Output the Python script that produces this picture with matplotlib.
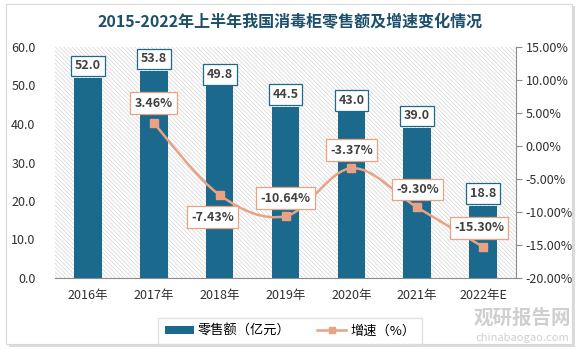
import matplotlib

matplotlib.use("Agg")
import matplotlib.pyplot as plt
from matplotlib.patches import Patch, Rectangle, PathPatch
from matplotlib.lines import Line2D
from matplotlib.path import Path

plt.rcParams["font.family"] = ["Noto Sans CJK SC", "DejaVu Sans"]
plt.rcParams["hatch.linewidth"] = 0.5

# data
years = ["2016年", "2017年", "2018年", "2019年", "2020年", "2021年", "2022年E"]
sales = [52.0, 53.8, 49.8, 44.5, 43.0, 39.0, 18.8]
growth_years = [1, 2, 3, 4, 5, 6]  # index into years (2016 has no growth value)
growth = [3.46, -7.43, -10.64, -3.37, -9.30, -15.30]
growth_text = ["3.46%", "-7.43%", "-10.64%", "-3.37%", "-9.30%", "-15.30%"]

BAR = "#1b6a8e"
LINE = "#e9a283"
TXT = "#404040"

fig = plt.figure(figsize=(5.8, 3.5), dpi=100)

# outer card with light shadow
fig.patches.append(Rectangle((9 / 580, 1 - 347 / 350), 566 / 580, 341 / 350,
                             transform=fig.transFigure, facecolor="#dcdcdc",
                             edgecolor="none", zorder=-2))
fig.patches.append(Rectangle((6 / 580, 1 - 344 / 350), 566 / 580, 340 / 350,
                             transform=fig.transFigure, facecolor="white",
                             edgecolor="#d8d8d8", linewidth=0.8, zorder=-1))

ax = fig.add_axes([55 / 580, 1 - 278 / 350, 461 / 580, 231 / 350])
ax.set_facecolor("none")
ax.add_patch(Rectangle((0, 0), 1, 1, transform=ax.transAxes, facecolor="white",
                       edgecolor="#d4d4d4", hatch="\\" * 8, linewidth=0, zorder=0))

x = list(range(len(years)))
ax.bar(x, sales, width=0.42, color=BAR, zorder=2)
ax.set_xlim(-0.5, len(years) - 0.5)
ax.set_ylim(0, 60)
ax.set_yticks([0, 10, 20, 30, 40, 50, 60])
ax.set_yticklabels([f"{v:.1f}" for v in [0, 10, 20, 30, 40, 50, 60]])
ax.set_xticks(x)
ax.set_xticklabels(years)
ax.tick_params(axis="y", length=0, labelsize=9, colors="#303030", pad=14)
ax.tick_params(axis="x", length=0, labelsize=9, colors="#303030", pad=8)
for s in ["top", "left", "right"]:
    ax.spines[s].set_visible(False)
ax.spines["bottom"].set_color("#8c8c8c")

for xi, v in zip(x, sales):
    ax.annotate(f"{v:.1f}", (xi, v), xytext=(0, 12), textcoords="offset pixels",
                ha="center", va="center", fontsize=9, fontweight="bold", color=TXT,
                bbox=dict(boxstyle="square,pad=0.3", facecolor="white",
                          edgecolor=BAR, linewidth=0.9), zorder=5)

ax2 = ax.twinx()
ax2.set_ylim(-20, 15)
ticks = [-20, -15, -10, -5, 0, 5, 10, 15]
ax2.set_yticks(ticks)
ax2.set_yticklabels([f"{t:.2f}%" for t in ticks])
ax2.tick_params(axis="y", length=4, labelsize=9, colors="#303030", pad=3, color="#8c8c8c")
for s in ["top", "left", "bottom"]:
    ax2.spines[s].set_visible(False)
ax2.spines["right"].set_color("#8c8c8c")

# smooth line (Catmull-Rom through the data points, drawn as Bezier path)
pts = list(zip(growth_years, growth))
verts = [pts[0]]
codes = [Path.MOVETO]
for i in range(len(pts) - 1):
    p0 = pts[i - 1] if i > 0 else pts[i]
    p1, p2 = pts[i], pts[i + 1]
    p3 = pts[i + 2] if i + 2 < len(pts) else pts[i + 1]
    c1 = (p1[0] + (p2[0] - p0[0]) / 6, p1[1] + (p2[1] - p0[1]) / 6)
    c2 = (p2[0] - (p3[0] - p1[0]) / 6, p2[1] - (p3[1] - p1[1]) / 6)
    verts += [c1, c2, p2]
    codes += [Path.CURVE4] * 3
ax2.add_patch(PathPatch(Path(verts, codes), facecolor="none", edgecolor=LINE,
                        linewidth=1.8, zorder=3))
ax2.plot(growth_years, growth, linestyle="none", marker="s", markersize=6,
         color=LINE, zorder=4)

offsets = [(0, 20), (-7, -22), (0, 18), (0, 18), (0, 18), (-4, 19)]
for xi, v, t, off in zip(growth_years, growth, growth_text, offsets):
    ax2.annotate(t, (xi, v), xytext=off, textcoords="offset pixels",
                 ha="center", va="center", fontsize=9, fontweight="bold", color=TXT,
                 bbox=dict(boxstyle="square,pad=0.35", facecolor="white",
                           edgecolor=LINE, linewidth=0.9), zorder=6)

fig.text(0.5, 1 - 22 / 350, "2015-2022年上半年我国消毒柜零售额及增速变化情况",
         ha="center", va="center", fontsize=11.5, fontweight="bold", color="#1d4f6b")

handles = [Patch(facecolor=BAR, edgecolor="none"),
           Line2D([], [], color=LINE, marker="s", markersize=5, linewidth=1.8)]
fig.legend(handles, ["零售额（亿元）", "增速（%）"], loc="center",
           bbox_to_anchor=(290 / 580, 1 - 331 / 350), ncol=2, fontsize=9.5,
           frameon=True, edgecolor="#d9d9d9", fancybox=False, handlelength=2.2,
           handleheight=0.5, handletextpad=0.3, columnspacing=2.0, borderpad=0.5)

# watermark
fig.text(522 / 580, 1 - 318 / 350, "观研报告网", ha="center", va="center",
         fontsize=14, fontweight="bold", color="#cfcfcf")
fig.text(522 / 580, 1 - 338 / 350, "chinabaogao.com", ha="center", va="center",
         fontsize=8, color="#cfcfcf")

fig.savefig("out.png", dpi=100)
